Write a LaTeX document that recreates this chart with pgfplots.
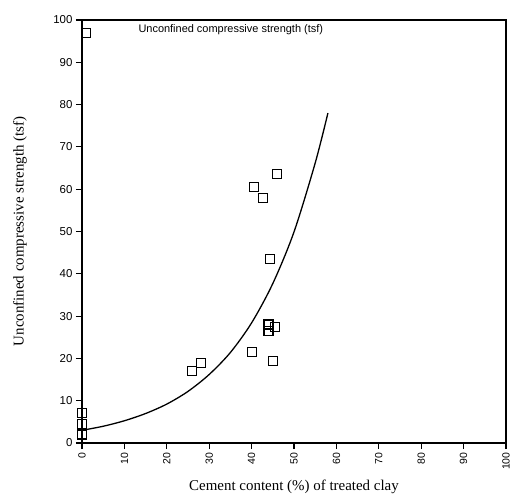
\documentclass[border=0pt]{standalone}
\usepackage{fontspec}
\setmainfont{Liberation Serif}
\setsansfont{Liberation Sans}
\usepackage{pgfplots}
\pgfplotsset{compat=1.18}
\begin{document}
\begin{tikzpicture}
\begin{axis}[
  scale only axis,
  width=424bp, height=423bp,
  xmin=0, xmax=100, ymin=0, ymax=100,
  xtick={0,10,...,100}, ytick={0,10,...,100},
  xtick pos=bottom, ytick pos=left,
  tick align=outside,
  major tick length=6bp,
  axis line style={line width=1.4pt},
  every tick/.style={line width=1.2pt, black},
  xticklabel style={rotate=90, anchor=east, font=\sffamily\fontsize{10.5}{12}\selectfont},
  yticklabel style={font=\sffamily\fontsize{11.5}{13}\selectfont},
  /pgf/number format/assume math mode=true,
  xlabel={Cement content (\%) of treated clay},
  ylabel={Unconfined compressive strength (tsf)},
  xlabel style={font=\fontsize{15}{17}\selectfont, at={(rel axis cs:0.5,-0.104)}, anchor=center},
  ylabel style={font=\fontsize{15}{17}\selectfont, at={(rel axis cs:-0.146,0.5)}, anchor=center},
  clip=false,
]
\addplot[only marks, mark=square, mark size=4.5bp, mark options={line width=1.2pt, black}] coordinates {
  (1,97) (0,7) (0,4.5) (0,2)
  (26,17) (28,19) (40,21.5) (45,19.3)
  (44,26.5) (44,28) (45.5,27.5)
  (44.3,43.5) (46,63.5) (40.5,60.5) (42.7,58)
};
\addplot[black, line width=1.3pt, smooth] coordinates {
  (0,3) (5,3.96) (10,5.26) (15,6.97) (20,9.2) (25,12.2) (30,16.2)
  (35,21.4) (40,28.4) (45,37.7) (50,49.9) (55,66.2) (58,78)
};
\node[anchor=west, font=\sffamily\fontsize{11}{13}\selectfont] at (rel axis cs:0.125,0.976) {Unconfined compressive strength (tsf)};
\end{axis}
\path (current axis.south west) ++(-82bp,-57bp) coordinate (bbA);
\path (current axis.north east) ++(9bp,20bp) coordinate (bbB);
\useasboundingbox (bbA) rectangle (bbB);
\end{tikzpicture}
\end{document}
